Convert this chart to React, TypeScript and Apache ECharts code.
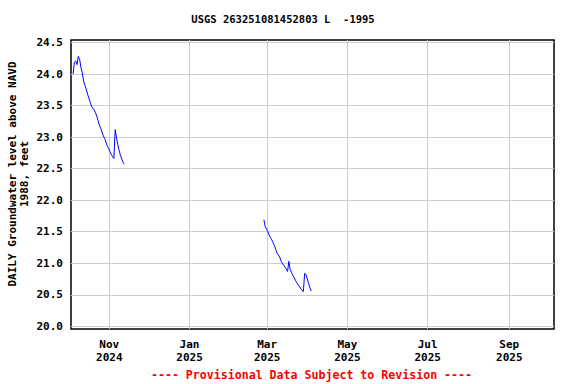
import React, { useEffect, useRef } from "react";
import * as echarts from "echarts";

const TITLE = "USGS 263251081452803 L  -1995";
const Y_NAME = "DAILY Groundwater level above NAVD\n1988, feet";
const FOOTER = "---- Provisional Data Subject to Revision ----";

const MONTHS = ["Jan", "Feb", "Mar", "Apr", "May", "Jun", "Jul", "Aug", "Sep", "Oct", "Nov", "Dec"];

// x tick dates [year, monthIndex, day]
const xTickDates: [number, number, number][] = [
  [2024, 10, 1], [2025, 0, 1], [2025, 2, 1], [2025, 4, 1], [2025, 6, 1], [2025, 8, 1],
];
const yTicks = [20.0, 20.5, 21.0, 21.5, 22.0, 22.5, 23.0, 23.5, 24.0, 24.5];

// Segment 1: daily values starting 2024-10-04
const seg1Start: [number, number, number] = [2024, 9, 4];
const seg1Values = [
  24.0, 24.19, 24.21, 24.15, 24.28, 24.23, 24.1, 24.02, 23.89, 23.82,
  23.76, 23.68, 23.62, 23.55, 23.49, 23.46, 23.43, 23.39, 23.33, 23.26,
  23.19, 23.14, 23.08, 23.02, 22.98, 22.92, 22.86, 22.82, 22.77, 22.73,
  22.69, 22.66, 23.12, 22.99, 22.88, 22.79, 22.71, 22.65, 22.6, 22.57,
];

// Segment 2: daily values starting 2025-02-26
const seg2Start: [number, number, number] = [2025, 1, 26];
const seg2Values = [
  21.69, 21.58, 21.54, 21.5, 21.45, 21.41, 21.37, 21.33, 21.28, 21.22,
  21.16, 21.13, 21.1, 21.04, 21.0, 20.97, 20.94, 20.91, 20.87, 21.03,
  20.9, 20.85, 20.81, 20.77, 20.73, 20.69, 20.66, 20.63, 20.6, 20.57,
  20.55, 20.84, 20.82, 20.75, 20.68, 20.61, 20.56,
];

const X_MIN = new Date(2024, 9, 2, 22).getTime();
const X_MAX = new Date(2025, 9, 5, 0).getTime();
const Y_MIN = 19.957;
const Y_MAX = 24.54;

function buildSeg(start: [number, number, number], vals: number[]) {
  return vals.map((v, i) => [new Date(start[0], start[1], start[2] + i, 12).getTime(), v]);
}

const FONT = "DejaVu Sans Mono";

export default function App() {
  const ref = useRef<HTMLDivElement>(null);
  useEffect(() => {
    if (!ref.current) return;
    const chart = echarts.init(ref.current, undefined, { renderer: "svg" });
    const data = [
      ...buildSeg(seg1Start, seg1Values),
      [new Date(2024, 11, 15).getTime(), null],
      ...buildSeg(seg2Start, seg2Values),
    ];
    const xTicks = xTickDates.map((d) => new Date(d[0], d[1], d[2]).getTime());
    chart.setOption({
      animation: false,
      backgroundColor: "#ffffff",
      grid: {
        left: 71,
        right: 22,
        top: 40,
        bottom: 55,
        show: true,
        borderColor: "#000000",
        borderWidth: 1.5,
        backgroundColor: "transparent",
      },
      xAxis: {
        type: "value",
        min: X_MIN,
        max: X_MAX,
        axisLine: { show: false },
        axisTick: { show: false, customValues: xTicks },
        splitLine: { show: true, lineStyle: { color: "#cccccc", width: 1 } },
        axisLabel: {
          customValues: xTicks,
          margin: 9,
          fontFamily: FONT,
          fontWeight: "bold",
          fontSize: 11,
          lineHeight: 13,
          color: "#000",
          formatter: (v: number) => {
            const d = new Date(v);
            return MONTHS[d.getMonth()] + "\n" + d.getFullYear();
          },
        },
      },
      yAxis: {
        type: "value",
        min: Y_MIN,
        max: Y_MAX,
        axisLine: { show: false },
        axisTick: { show: false, customValues: yTicks },
        splitLine: { show: true, lineStyle: { color: "#cccccc", width: 1 } },
        axisLabel: {
          customValues: yTicks,
          margin: 8,
          fontFamily: FONT,
          fontWeight: "bold",
          fontSize: 11,
          color: "#000",
          formatter: (v: number) => v.toFixed(1),
        },
      },
      graphic: [
        {
          type: "text",
          x: 283,
          y: 19,
          style: {
            text: TITLE,
            fontFamily: FONT,
            fontWeight: "bold",
            fontSize: 10.5,
            fill: "#000",
            textAlign: "center",
            textVerticalAlign: "middle",
          },
        },
        {
          type: "text",
          x: 18,
          y: 174,
          rotation: Math.PI / 2,
          style: {
            text: Y_NAME,
            fontFamily: FONT,
            fontWeight: "bold",
            fontSize: 11,
            lineHeight: 12,
            fill: "#000",
            textAlign: "center",
            textVerticalAlign: "middle",
          },
        },
        {
          type: "text",
          x: 311.5,
          y: 375,
          style: {
            text: FOOTER,
            fontFamily: FONT,
            fontWeight: "bold",
            fontSize: 11.6,
            fill: "#ff0000",
            textAlign: "center",
            textVerticalAlign: "middle",
          },
        },
      ],
      series: [
        {
          type: "line",
          data,
          showSymbol: false,
          connectNulls: false,
          lineStyle: { color: "#0000ff", width: 1 },
          itemStyle: { color: "#0000ff" },
        },
      ],
    });
    return () => chart.dispose();
  }, []);
  return (
    <div
      ref={ref}
      style={{ position: "fixed", left: 0, top: 0, width: 576, height: 384 }}
    />
  );
}
